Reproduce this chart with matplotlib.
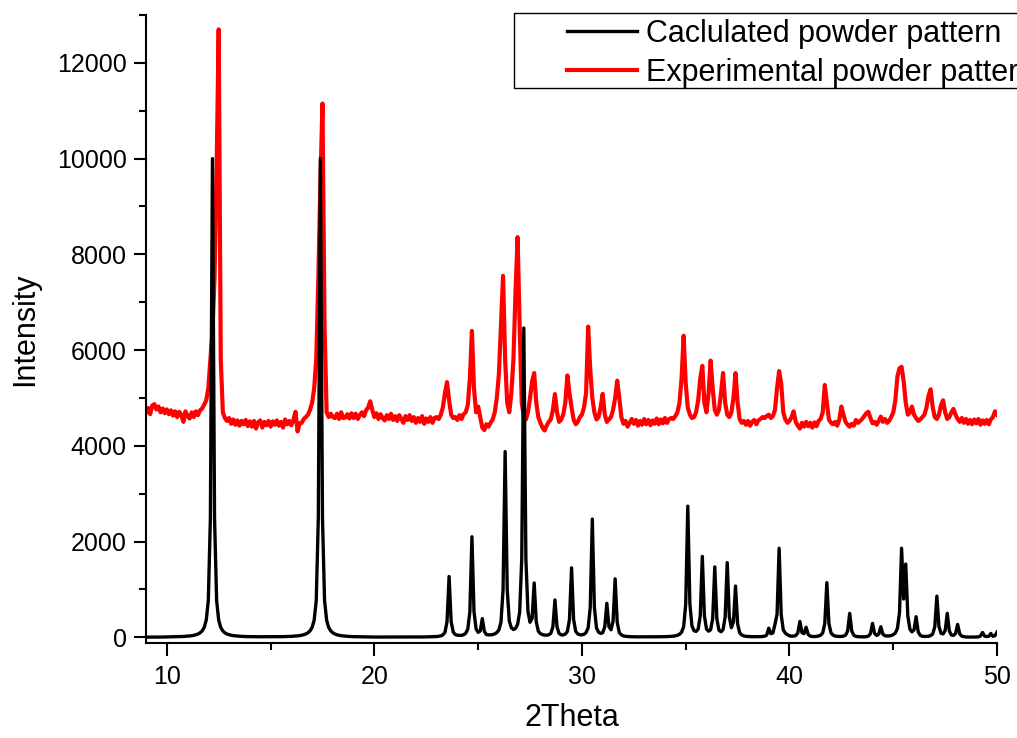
import numpy as np
import matplotlib
matplotlib.use('Agg')
import matplotlib.pyplot as plt
from matplotlib.ticker import MultipleLocator
from matplotlib.patches import Rectangle

# scan: 9.0 .. 50.0 deg 2theta, 0.1 deg step
step = 0.1
two_theta = np.round(np.arange(9.0, 50.0 + step / 2, step), 1)

# calculated pattern, one row per degree (9.x, 10.x, ...)
calc_intensity = [
    3, 3, 4, 4, 4, 4, 5, 5, 5, 6,
    7, 8, 8, 9, 10, 12, 13, 15, 17, 20,
    23, 28, 33, 41, 52, 68, 92, 132, 204, 357,
    769, 2500, 10000, 2500, 769, 357, 204, 132, 92, 68,
    54, 43, 35, 30, 25, 22, 19, 17, 15, 14,
    13, 12, 12, 11, 11, 11, 10, 10, 11, 11,
    10, 10, 10, 11, 12, 12, 13, 14, 16, 17,
    19, 22, 25, 30, 35, 43, 54, 70, 94, 134,
    204, 357, 769, 2500, 10000, 2500, 769, 357, 204, 132,
    92, 68, 52, 41, 33, 28, 23, 20, 17, 15,
    13, 12, 10, 9, 8, 8, 7, 7, 6, 6,
    5, 5, 5, 4, 4, 4, 4, 3, 3, 3,
    4, 4, 4, 4, 4, 4, 4, 4, 4, 5,
    5, 5, 6, 6, 7, 8, 9, 10, 12, 14,
    15, 21, 30, 50, 102, 322, 1270, 325, 107, 57,
    42, 40, 40, 53, 84, 170, 530, 2100, 535, 175,
    103, 132, 390, 121, 56, 51, 50, 57, 71, 99,
    155, 316, 991, 3880, 1003, 342, 199, 163, 183, 269,
    523, 1635, 6460, 1636, 535, 314, 395, 1134, 322, 125,
    77, 55, 45, 44, 52, 82, 216, 780, 215, 80,
    50, 49, 67, 124, 372, 1450, 371, 124, 69, 52,
    51, 62, 99, 198, 625, 2470, 623, 197, 108, 81,
    95, 217, 710, 225, 156, 337, 1220, 310, 100, 50,
    29, 20, 16, 13, 11, 10, 9, 9, 9, 9,
    9, 9, 9, 9, 10, 10, 10, 11, 11, 12,
    13, 14, 16, 19, 23, 30, 42, 62, 106, 220,
    690, 2740, 700, 237, 137, 122, 171, 450, 1690, 452,
    173, 127, 158, 391, 1470, 386, 148, 115, 160, 423,
    1560, 430, 200, 325, 1070, 280, 94, 47, 29, 20,
    16, 14, 12, 12, 12, 13, 14, 16, 22, 45,
    190, 75, 90, 270, 480, 1860, 470, 155, 85, 55,
    30, 22, 25, 35, 90, 330, 98, 77, 210, 60,
    24, 16, 15, 19, 26, 44, 91, 288, 1140, 285,
    90, 44, 26, 20, 17, 18, 24, 43, 129, 500,
    129, 40, 20, 13, 10, 9, 9, 13, 25, 75,
    290, 80, 39, 65, 220, 63, 32, 27, 28, 37,
    55, 90, 185, 520, 1860, 800, 1530, 450, 170, 113,
    156, 430, 112, 39, 21, 18, 18, 22, 36, 70,
    220, 860, 225, 84, 69, 142, 500, 130, 48, 39,
    78, 270, 70, 24, 13, 7, 5, 4, 4, 6,
    6, 8, 25, 100, 25, 14, 20, 80, 20, 34,
    110,
]

# experimental pattern, same grid
expt_intensity = [
    4700, 4790, 4660, 4840, 4870, 4760, 4820, 4700, 4780, 4680,
    4760, 4660, 4740, 4630, 4720, 4600, 4710, 4640, 4500, 4720,
    4620, 4570, 4700, 4600, 4720, 4640, 4740, 4780, 4860, 4950,
    5200, 5800, 6400, 7500, 9800, 12700, 5800, 4700, 4580, 4520,
    4580, 4460, 4550, 4440, 4530, 4420, 4520, 4450, 4540, 4410,
    4510, 4400, 4520, 4360, 4490, 4530, 4380, 4500, 4430, 4520,
    4400, 4510, 4440, 4530, 4420, 4500, 4380, 4550, 4450, 4520,
    4430, 4540, 4710, 4300, 4470, 4480, 4560, 4600, 4650, 4750,
    4900, 5200, 5800, 7500, 9500, 11150, 6500, 4700, 4600, 4670,
    4600, 4580, 4670, 4560, 4700, 4580, 4590, 4660, 4570, 4680,
    4580, 4670, 4560, 4640, 4700, 4620, 4740, 4800, 4930, 4750,
    4600, 4680, 4560, 4660, 4580, 4530, 4640, 4560, 4670, 4540,
    4620, 4520, 4640, 4560, 4480, 4620, 4540, 4640, 4520, 4600,
    4480, 4580, 4500, 4620, 4460, 4570, 4500, 4600, 4480, 4580,
    4600, 4560, 4650, 4800, 5100, 5330, 4950, 4650, 4580, 4600,
    4540, 4640, 4560, 4660, 4700, 4850, 5400, 6400, 5200, 4700,
    4820, 4600, 4380, 4330, 4450, 4400, 4480, 4550, 4700, 5000,
    5500, 6500, 7550, 5800, 4900, 4700, 5100, 5800, 7200, 8360,
    6500, 4900, 4600, 4550, 4700, 5000, 5350, 5520, 4900, 4600,
    4480, 4380, 4320, 4420, 4500, 4550, 4750, 5080, 4700, 4500,
    4550, 4650, 4900, 5470, 5100, 4800, 4550, 4450, 4500, 4600,
    4650, 4800, 5100, 6490, 5600, 5000, 4700, 4550, 4600, 4800,
    5085, 4650, 4500, 4550, 4600, 4750, 5000, 5360, 5000, 4600,
    4460, 4520, 4400, 4480, 4560, 4460, 4540, 4420, 4520, 4440,
    4560, 4450, 4540, 4430, 4530, 4460, 4570, 4450, 4550, 4470,
    4580, 4480, 4560, 4580, 4560, 4620, 4700, 4900, 5400, 6300,
    5300, 4800, 4650, 4580, 4600, 4700, 4950, 5400, 5670, 4900,
    4700, 5100, 5780, 5200, 4750, 4650, 4750, 5100, 5520, 4900,
    4650, 4600, 4700, 5000, 5520, 4900, 4550, 4480, 4520, 4440,
    4520, 4420, 4500, 4540, 4450, 4530, 4560, 4600, 4580, 4620,
    4650, 4580, 4620, 4750, 5200, 5560, 5300, 4700, 4550, 4480,
    4520, 4600, 4720, 4500, 4420, 4360, 4480, 4400, 4500, 4410,
    4480, 4380, 4490, 4410, 4520, 4560, 4700, 5270, 4900, 4550,
    4480, 4450, 4500, 4420, 4550, 4820, 4650, 4500, 4440, 4400,
    4460, 4420, 4540, 4480, 4520, 4560, 4620, 4680, 4710, 4580,
    4470, 4500, 4440, 4520, 4610, 4500, 4560, 4480, 4520, 4600,
    4700, 4950, 5450, 5620, 5650, 5350, 4900, 4650, 4700, 4820,
    4650, 4580, 4520, 4550, 4600, 4650, 4800, 5050, 5180, 4800,
    4600, 4560, 4650, 4850, 4950, 4700, 4560, 4600, 4700, 4770,
    4650, 4560, 4500, 4580, 4480, 4560, 4460, 4540, 4450, 4550,
    4470, 4560, 4440, 4530, 4460, 4540, 4450, 4550, 4600, 4720,
    4650,
]

legend_labels = ['Caclulated powder pattern', 'Experimental powder pattern']

plt.rcParams['font.family'] = ['Liberation Sans', 'DejaVu Sans']

fig = plt.figure(figsize=(10.17, 7.38), dpi=100)
ax = fig.add_axes([0.1436, 0.1287, 0.8368, 0.851])

line_exp, = ax.plot(two_theta, expt_intensity, color='red', lw=3.0, zorder=2)
line_calc, = ax.plot(two_theta, calc_intensity, color='black', lw=2.4, zorder=3)

ax.set_xlim(9, 50)
ax.set_ylim(-120, 13000)
ax.xaxis.set_major_locator(MultipleLocator(10))
ax.xaxis.set_minor_locator(MultipleLocator(5))
ax.yaxis.set_major_locator(MultipleLocator(2000))
ax.yaxis.set_minor_locator(MultipleLocator(1000))

for side in ['top', 'right']:
    ax.spines[side].set_visible(False)
for side in ['left', 'bottom']:
    ax.spines[side].set_linewidth(1.5)

ax.tick_params(which='major', direction='out', length=9, width=1.5, labelsize=18)
ax.tick_params(which='minor', direction='out', length=4.8, width=1.5)
ax.tick_params(axis='x', which='major', pad=7)
ax.tick_params(axis='y', which='major', pad=5)

ax.set_xlabel('2Theta', fontsize=22, labelpad=10)
ax.set_ylabel('Intensity', fontsize=22, labelpad=12)

# legend frame runs off the right edge of the figure, as in the original
frame = Rectangle((514 / 1017, 1 - 88 / 738), 0.6, 75.3 / 738,
                  transform=fig.transFigure, facecolor='white',
                  edgecolor='black', lw=1.0, zorder=4)
fig.add_artist(frame)
leg = fig.legend([line_calc, line_exp], legend_labels, loc='upper left',
                 bbox_to_anchor=(567 / 1017, 1 - 19 / 738), fontsize=22,
                 frameon=False, handlelength=2.3, handletextpad=0.28,
                 borderpad=0, labelspacing=0.28, borderaxespad=0)
leg.set_zorder(5)

fig.savefig('out.png', dpi=100)
